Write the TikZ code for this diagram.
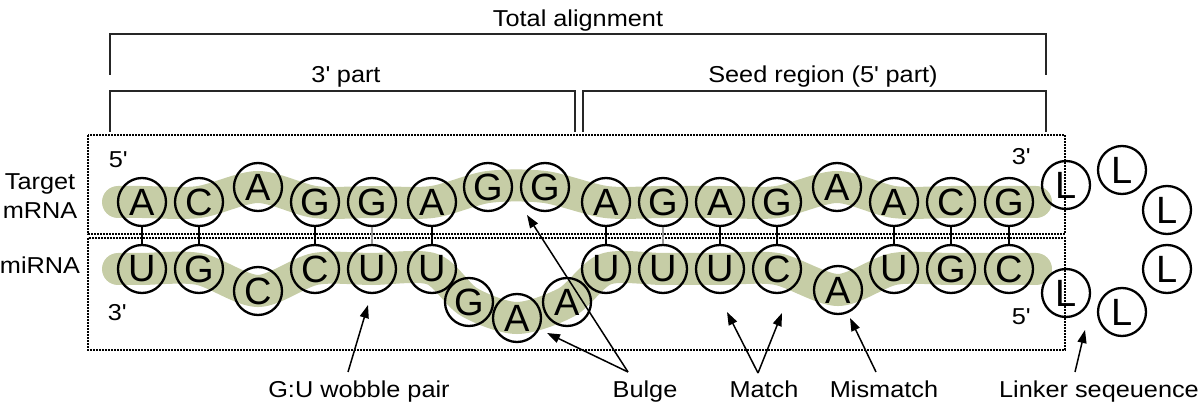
\documentclass[tikz,border=0pt]{standalone}
\usepackage{fontspec}
\setmainfont{Liberation Sans}[FakeStretch=1.1]
\newfontfamily\circfont{Liberation Sans}
\usetikzlibrary{arrows.meta}
\definecolor{bandcol}{RGB}{198,205,166}
\newcommand{\sq}{\textquotesingle}
\begin{document}
\begin{tikzpicture}[x=1pt,y=-1pt,
 nuc/.style={circle,draw=black,line width=2.3pt,minimum size=48pt,inner sep=0pt,font=\circfont\fontsize{38}{38}\selectfont},
 lbl/.style={anchor=base,font=\fontsize{23}{23}\selectfont,inner sep=0pt},
 bandline/.style={draw=bandcol,line width=32pt,line cap=round},
 pairline/.style={line width=2.3pt,black},
 gupair/.style={line width=2.3pt,black!40},
 dotbox/.style={line width=1.2pt,dash pattern=on 1.8pt off 1.2pt},
 bracket/.style={line width=2pt,black!85},
 arr/.style={line width=1.5pt,-{Triangle[length=13pt,width=9pt]}}]
\useasboundingbox (0,0) rectangle (1200,406);
% bands
\draw[bandline] plot[smooth,tension=0.5] coordinates {(118,202) (142,202) (199,202) (258,187) (315,202) (372,202) (432,202) (488,187) (545,187) (606,202) (663,202) (720,202) (777,202) (837,187) (894,202) (951,202) (1009,202) (1036,202)};
\draw[bandline] plot[smooth,tension=0.5] coordinates {(118,269) (142,269) (199,269) (258,291) (315,269) (372,269) (432,269) (469,302) (517,318) (567,302) (606,269) (663,269) (720,269) (777,269) (838,290) (894,269) (951,269) (1009,269) (1036,269)};
% dotted boxes
\draw[dotbox] (88,135) rectangle (1065,234);
\draw[dotbox] (88,238) rectangle (1065,350);
% brackets
\draw[bracket] (110,75) -- (110,34) -- (1046,34) -- (1046,75);
\draw[bracket] (110,132) -- (110,91) -- (575,91) -- (575,132);
\draw[bracket] (583,132) -- (583,91) -- (1046,91) -- (1046,132);
\node[lbl] (total) at (578,27) {Total alignment};
\node[lbl] (threepart) at (346,83) {3\sq{} part};
\node[lbl] (seed) at (823,83) {Seed region (5\sq{} part)};
% side labels
\node[lbl] (target) at (40,190) {Target};
\node[lbl] (mrna) at (40,219) {mRNA};
\node[lbl] (mirna) at (40,274) {miRNA};
\node[lbl] (l5a) at (118,168) {5\sq};
\node[lbl] (l3a) at (117,320) {3\sq};
\node[lbl] (l3b) at (1021,165) {3\sq};
\node[lbl] (l5b) at (1021,324) {5\sq};
% nucleotides top
\foreach \n/\x/\y/\l in {t1/142/202/A, t2/199/202/C, t3/258/187/A, t4/315/202/G, t5/372/202/G, t6/432/202/A, t7/488/187/G, t8/545/187/G, t9/606/202/A, t10/663/202/G, t11/720/202/A, t12/777/202/G, t13/837/187/A, t14/894/202/A, t15/951/202/C, t16/1009/202/G}
  \node[nuc] (\n) at (\x,\y) {\l};
% nucleotides bottom
\foreach \n/\x/\y/\l in {b1/142/269/U, b2/199/269/G, b3/258/291/C, b4/315/269/C, b5/372/269/U, b6/432/269/U, b7/469/302/G, b8/517/318/A, b9/567/302/A, b10/606/269/U, b11/663/269/U, b12/720/269/U, b13/777/269/C, b14/838/290/A, b15/894/269/U, b16/951/269/G, b17/1009/269/C}
  \node[nuc] (\n) at (\x,\y) {\l};
% linker
\foreach \n/\x/\y in {L1/1066/185, L2/1122/170, L3/1167/210, L4/1167/269, L5/1122/312, L6/1066/293}
  \node[nuc] (\n) at (\x,\y) {L};
% pairs
\foreach \a/\b in {t1/b1, t2/b2, t4/b4, t6/b6, t9/b10, t11/b12, t12/b13, t14/b15, t15/b16, t16/b17}
  \draw[pairline] (\a.south) -- (\b.north);
\draw[gupair] (t5.south) -- (b5.north);
\draw[gupair] (t10.south) -- (b11.north);
% bottom labels
\node[lbl] (wobble) at (359,397) {G:U wobble pair};
\node[lbl] (bulge) at (645,397) {Bulge};
\node[lbl] (match) at (764,397) {Match};
\node[lbl] (mismatch) at (884,397) {Mismatch};
\node[lbl] (linker) at (1099,397) {Linker seqeuence};
% arrow coordinates
\coordinate (wT) at (348,372); \coordinate (wH) at (368,305);
\coordinate (bT) at (628,372); \coordinate (bH1) at (547,333); \coordinate (bH2) at (527,215);
\coordinate (mT) at (758,373); \coordinate (mH1) at (727,312); \coordinate (mH2) at (782,313);
\coordinate (mmT) at (876,372); \coordinate (mmH) at (850,318);
\coordinate (lT) at (1075,372); \coordinate (lH) at (1085,330);
\draw[arr] (wT) -- (wH);
\draw[arr] (bT) -- (bH1);
\draw[arr] (bT) -- (bH2);
\draw[arr] (mT) -- (mH1);
\draw[arr] (mT) -- (mH2);
\draw[arr] (mmT) -- (mmH);
\draw[arr] (lT) -- (lH);
\end{tikzpicture}
\end{document}
